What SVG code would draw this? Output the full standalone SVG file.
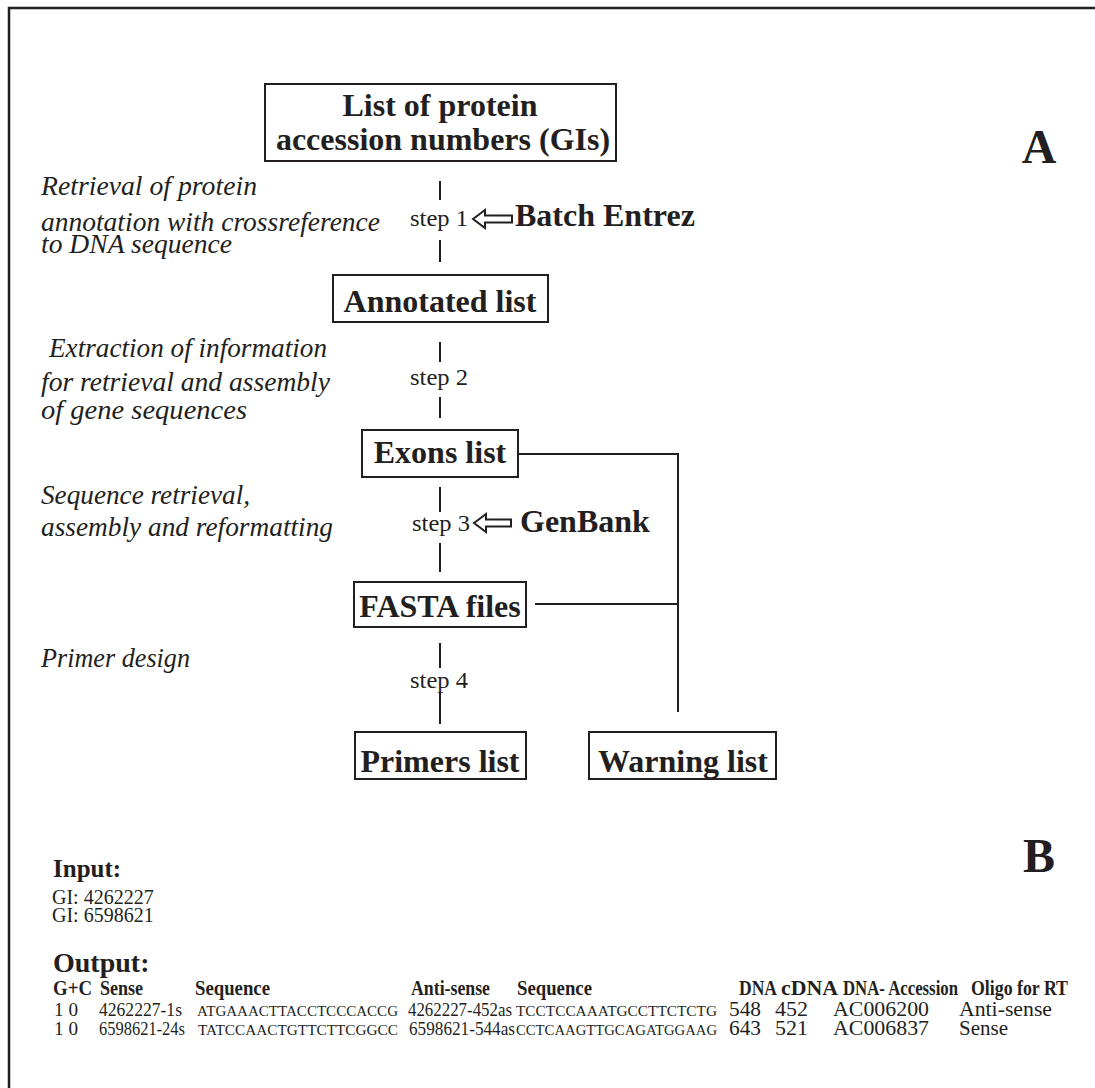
<svg xmlns="http://www.w3.org/2000/svg" width="1095" height="1088" viewBox="0 0 1095 1088">
<style>
text{font-family:"Liberation Serif","Times New Roman",serif;fill:#231f20}
.box{fill:#fff;stroke:#231f20;stroke-width:2}
.ln{stroke:#231f20;stroke-width:2;fill:none}
.arr{fill:#fff;stroke:#231f20;stroke-width:2;stroke-linejoin:miter}
.bt{font-size:32px;font-weight:bold;text-anchor:middle}
.bx{font-size:32px;font-weight:bold}
.st{font-size:24px}
.it{font-size:27px;font-style:italic}
.nm{font-size:22px}
.big{font-size:48px;font-weight:bold;text-anchor:middle}
</style>
<rect x="9" y="8" width="1100" height="1100" fill="#fff" stroke="#231f20" stroke-width="2.5"/>

<g id="connectors">
<line class="ln" x1="440" y1="181" x2="440" y2="200"/>
<line class="ln" x1="440" y1="240" x2="440" y2="262"/>
<line class="ln" x1="440" y1="342" x2="440" y2="362"/>
<line class="ln" x1="440" y1="397" x2="440" y2="418"/>
<line class="ln" x1="440" y1="487" x2="440" y2="512"/>
<line class="ln" x1="440" y1="543" x2="440" y2="572"/>
<line class="ln" x1="440" y1="643" x2="440" y2="668"/>
<line class="ln" x1="440" y1="693" x2="440" y2="724"/>
<polyline class="ln" points="518,454 678,454 678,712"/>
<line class="ln" x1="535" y1="604" x2="678" y2="604"/>
<path class="arr" d="M473,219 L485,210 L485,215.5 L512,215.5 L512,222.5 L485,222.5 L485,228 Z"/>
<path class="arr" d="M474,523 L486,514 L486,519.5 L511,519.5 L511,526.5 L486,526.5 L486,532 Z"/>
</g>

<g id="node-gis">
<rect class="box" x="265" y="84" width="351" height="77"/>
<text class="bt" x="440" y="116">List of protein</text>
<text class="bt" x="443" y="150">accession numbers (GIs)</text>
</g>
<g id="node-annotated">
<rect class="box" x="333" y="275" width="215" height="47"/>
<text class="bt" x="440" y="312">Annotated list</text>
</g>
<g id="node-exons">
<rect class="box" x="362" y="430" width="156" height="47"/>
<text class="bt" x="440" y="463">Exons list</text>
</g>
<g id="node-fasta">
<rect class="box" x="354" y="582" width="172" height="45"/>
<text class="bt" x="440" y="617">FASTA files</text>
</g>
<g id="node-primers">
<rect class="box" x="355" y="732" width="171" height="47"/>
<text class="bt" x="440" y="772">Primers list</text>
</g>
<g id="node-warning">
<rect class="box" x="589" y="732" width="187" height="47"/>
<text class="bt" x="683" y="772">Warning list</text>
</g>
<g id="node-batch">
<text class="bx" x="515" y="226">Batch Entrez</text>
</g>
<g id="node-genbank">
<text class="bx" x="520" y="532">GenBank</text>
</g>

<g id="step-labels">
<text class="st" x="410" y="226" textLength="58" lengthAdjust="spacingAndGlyphs">step 1</text>
<text class="st" x="410" y="385" textLength="58" lengthAdjust="spacingAndGlyphs">step 2</text>
<text class="st" x="412" y="531" textLength="58" lengthAdjust="spacingAndGlyphs">step 3</text>
<text class="st" x="410" y="688" textLength="58" lengthAdjust="spacingAndGlyphs">step 4</text>
</g>

<g id="descriptions">
<text class="it" x="41" y="195" textLength="216" lengthAdjust="spacingAndGlyphs">Retrieval of protein</text>
<text class="it" x="41" y="231" textLength="339" lengthAdjust="spacingAndGlyphs">annotation with crossreference</text>
<text class="it" x="41" y="253" textLength="191" lengthAdjust="spacingAndGlyphs">to DNA sequence</text>
<text class="it" x="49" y="357" textLength="278" lengthAdjust="spacingAndGlyphs">Extraction of information</text>
<text class="it" x="41" y="391" textLength="289" lengthAdjust="spacingAndGlyphs">for retrieval and assembly</text>
<text class="it" x="41" y="419" textLength="206" lengthAdjust="spacingAndGlyphs">of gene sequences</text>
<text class="it" x="41" y="504" textLength="209" lengthAdjust="spacingAndGlyphs">Sequence retrieval,</text>
<text class="it" x="41" y="536" textLength="292" lengthAdjust="spacingAndGlyphs">assembly and reformatting</text>
<text class="it" x="41" y="667" textLength="149" lengthAdjust="spacingAndGlyphs">Primer design</text>
</g>

<text class="big" x="1039" y="163">A</text>
<text class="big" x="1039" y="872">B</text>

<g id="panel-b">
<text x="53" y="877" font-size="25" font-weight="bold">Input:</text>
<text x="52" y="904" font-size="20">GI: 4262227</text>
<text x="52" y="922" font-size="20">GI: 6598621</text>
<text x="53" y="972" font-size="28" font-weight="bold">Output:</text>

<g font-size="22" font-weight="bold">
<text x="53" y="995" textLength="39" lengthAdjust="spacingAndGlyphs">G+C</text>
<text x="100" y="995" textLength="43" lengthAdjust="spacingAndGlyphs">Sense</text>
<text x="195" y="995" textLength="75" lengthAdjust="spacingAndGlyphs">Sequence</text>
<text x="411" y="995" textLength="79" lengthAdjust="spacingAndGlyphs">Anti-sense</text>
<text x="517" y="995" textLength="75" lengthAdjust="spacingAndGlyphs">Sequence</text>
<text x="739" y="995" textLength="38" lengthAdjust="spacingAndGlyphs">DNA</text>
<text x="781" y="995" textLength="57" lengthAdjust="spacingAndGlyphs">cDNA</text>
<text x="843" y="995" textLength="115" lengthAdjust="spacingAndGlyphs">DNA- Accession</text>
<text x="971" y="995" textLength="97" lengthAdjust="spacingAndGlyphs">Oligo for RT</text>
</g>

<g font-size="19">
<text x="54" y="1016" textLength="24" lengthAdjust="spacingAndGlyphs">1 0</text>
<text x="99" y="1016" textLength="83" lengthAdjust="spacingAndGlyphs">4262227-1s</text>
<text x="408" y="1016" textLength="104" lengthAdjust="spacingAndGlyphs">4262227-452as</text>
<text x="54" y="1035" textLength="24" lengthAdjust="spacingAndGlyphs">1 0</text>
<text x="99" y="1035" textLength="86" lengthAdjust="spacingAndGlyphs">6598621-24s</text>
<text x="409" y="1035" textLength="106" lengthAdjust="spacingAndGlyphs">6598621-544as</text>
</g>
<g font-size="15">
<text x="197" y="1016" textLength="201" lengthAdjust="spacingAndGlyphs">ATGAAACTTACCTCCCACCG</text>
<text x="516" y="1016" textLength="201" lengthAdjust="spacingAndGlyphs">TCCTCCAAATGCCTTCTCTG</text>
<text x="198" y="1035" textLength="200" lengthAdjust="spacingAndGlyphs">TATCCAACTGTTCTTCGGCC</text>
<text x="516" y="1035" textLength="201" lengthAdjust="spacingAndGlyphs">CCTCAAGTTGCAGATGGAAG</text>
</g>
<text class="nm" x="729" y="1016" textLength="32" lengthAdjust="spacingAndGlyphs">548</text>
<text class="nm" x="775" y="1016" textLength="33" lengthAdjust="spacingAndGlyphs">452</text>
<text class="nm" x="833" y="1016" textLength="96" lengthAdjust="spacingAndGlyphs">AC006200</text>
<text class="nm" x="959" y="1016" textLength="93" lengthAdjust="spacingAndGlyphs">Anti-sense</text>
<text class="nm" x="729" y="1035" textLength="32" lengthAdjust="spacingAndGlyphs">643</text>
<text class="nm" x="775" y="1035" textLength="33" lengthAdjust="spacingAndGlyphs">521</text>
<text class="nm" x="833" y="1035" textLength="96" lengthAdjust="spacingAndGlyphs">AC006837</text>
<text class="nm" x="959" y="1035" textLength="49" lengthAdjust="spacingAndGlyphs">Sense</text>
</g>
</svg>
